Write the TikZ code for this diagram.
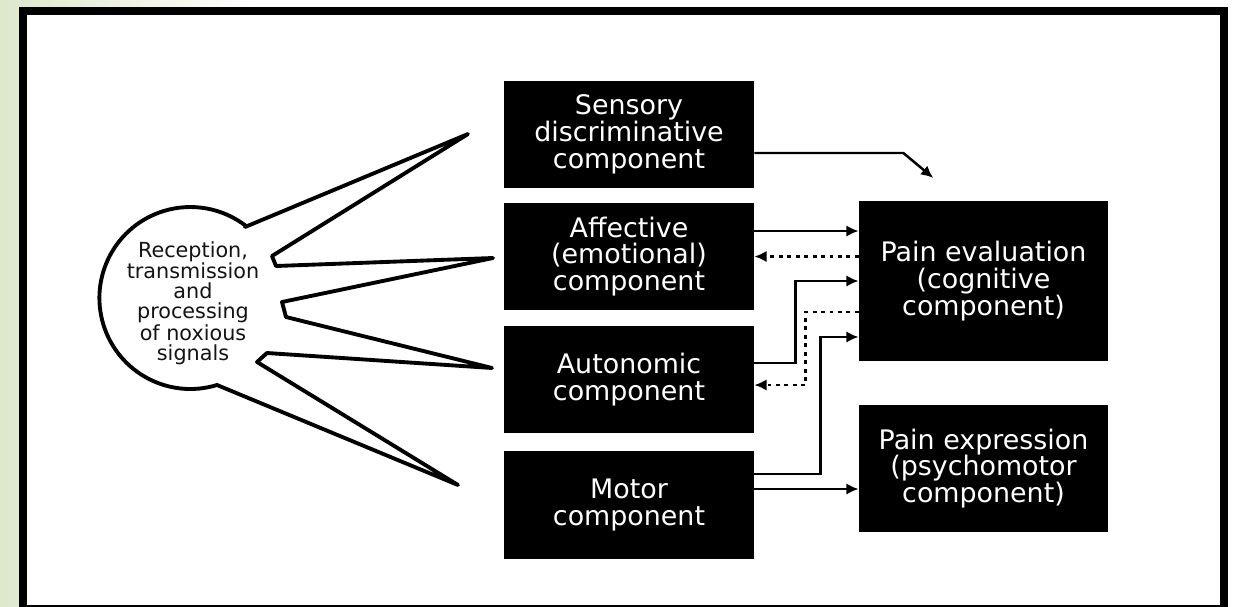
\documentclass[tikz,border=0pt]{standalone}
\usepackage{fontspec}
\setmainfont{DejaVu Sans}
\usetikzlibrary{arrows.meta}
\definecolor{leaf}{RGB}{222,232,204}
\definecolor{ink}{RGB}{20,20,20}

\begin{document}
\begin{tikzpicture}[x=0.02cm, y=-0.02cm]
    \tikzset{comp/.style = {fill=black, text=white, minimum width=5cm, minimum height=2.14cm, inner sep=0pt, align=center, font=\fontsize{15.3}{15.3}\selectfont}}
    \tikzset{edge/.style = {-{Latex[length=7pt,width=6.5pt]}, line width=1.4pt}}
    \tikzset{back/.style = {edge, dash pattern=on 2.2pt off 2.6pt}}
    \tikzset{blob/.style = {draw, line width=2.2pt, line join=round}}
    \clip (0,0) rectangle (1235,606);
    % background and frame
    \fill[white] (0,0) rectangle (1235,606);
    \shade[left color=leaf, right color=white] (0,0) rectangle (260,606);
    \draw[line width=4.5pt, fill=white] (23,11) rectangle (1224,609);
    % signal source
    \draw[blob] (245,227) -- (468,134) -- (272,256) -- (276,266) -- (493,258)
        -- (282,302) -- (286,317) -- (492,368) -- (267,353) -- (257,362)
        -- (458,485) -- (217,385) arc[start angle=287, end angle=52, radius=1.82cm] -- cycle;
    \node[align=center, text=ink, font=\fontsize{11.8}{11.3}\selectfont] (reception) at (193,303)
        {Reception,\\transmission\\and\\processing\\of noxious\\signals};
    % vertices
    \node[comp] (sensory) at (629,134.5) {Sensory\\discriminative\\component};
    \node[comp] (affective) at (629,256.5) {Affective\\(emotional)\\component};
    \node[comp] (autonomic) at (629,379.5) {Autonomic\\component};
    \node[comp, minimum height=2.16cm] (motor) at (629,505) {Motor\\component};
    \node[comp, minimum width=4.98cm, minimum height=3.2cm] (evaluation) at (983.5,281)
        {Pain evaluation\\(cognitive\\component)};
    \node[comp, minimum width=4.98cm, minimum height=2.54cm] (expression) at (983.5,468.5)
        {Pain expression\\(psychomotor\\component)};
    % edges
    \draw[edge] ([yshift=-0.37cm]sensory.east) -- ++(149,0) -- ++(30,25);
    \draw[edge] ([yshift=0.51cm]affective.east) -- ([yshift=0.51cm]affective.east -| evaluation.west);
    \draw[back] (evaluation.west |- affective.east) -- (affective.east);
    \draw[edge] ([yshift=0.33cm]autonomic.east) -- ++(41,0) |- (evaluation.west);
    \draw[back] ([yshift=-0.62cm]evaluation.west) -- ++(-53,0) |- ([yshift=-0.11cm]autonomic.east);
    \draw[edge] ([yshift=0.62cm]motor.east) -- ++(66,0) |- ([yshift=-1.12cm]evaluation.west);
    \draw[edge] ([yshift=0.32cm]motor.east) -- ([yshift=0.32cm]motor.east -| expression.west);
\end{tikzpicture}
\end{document}
